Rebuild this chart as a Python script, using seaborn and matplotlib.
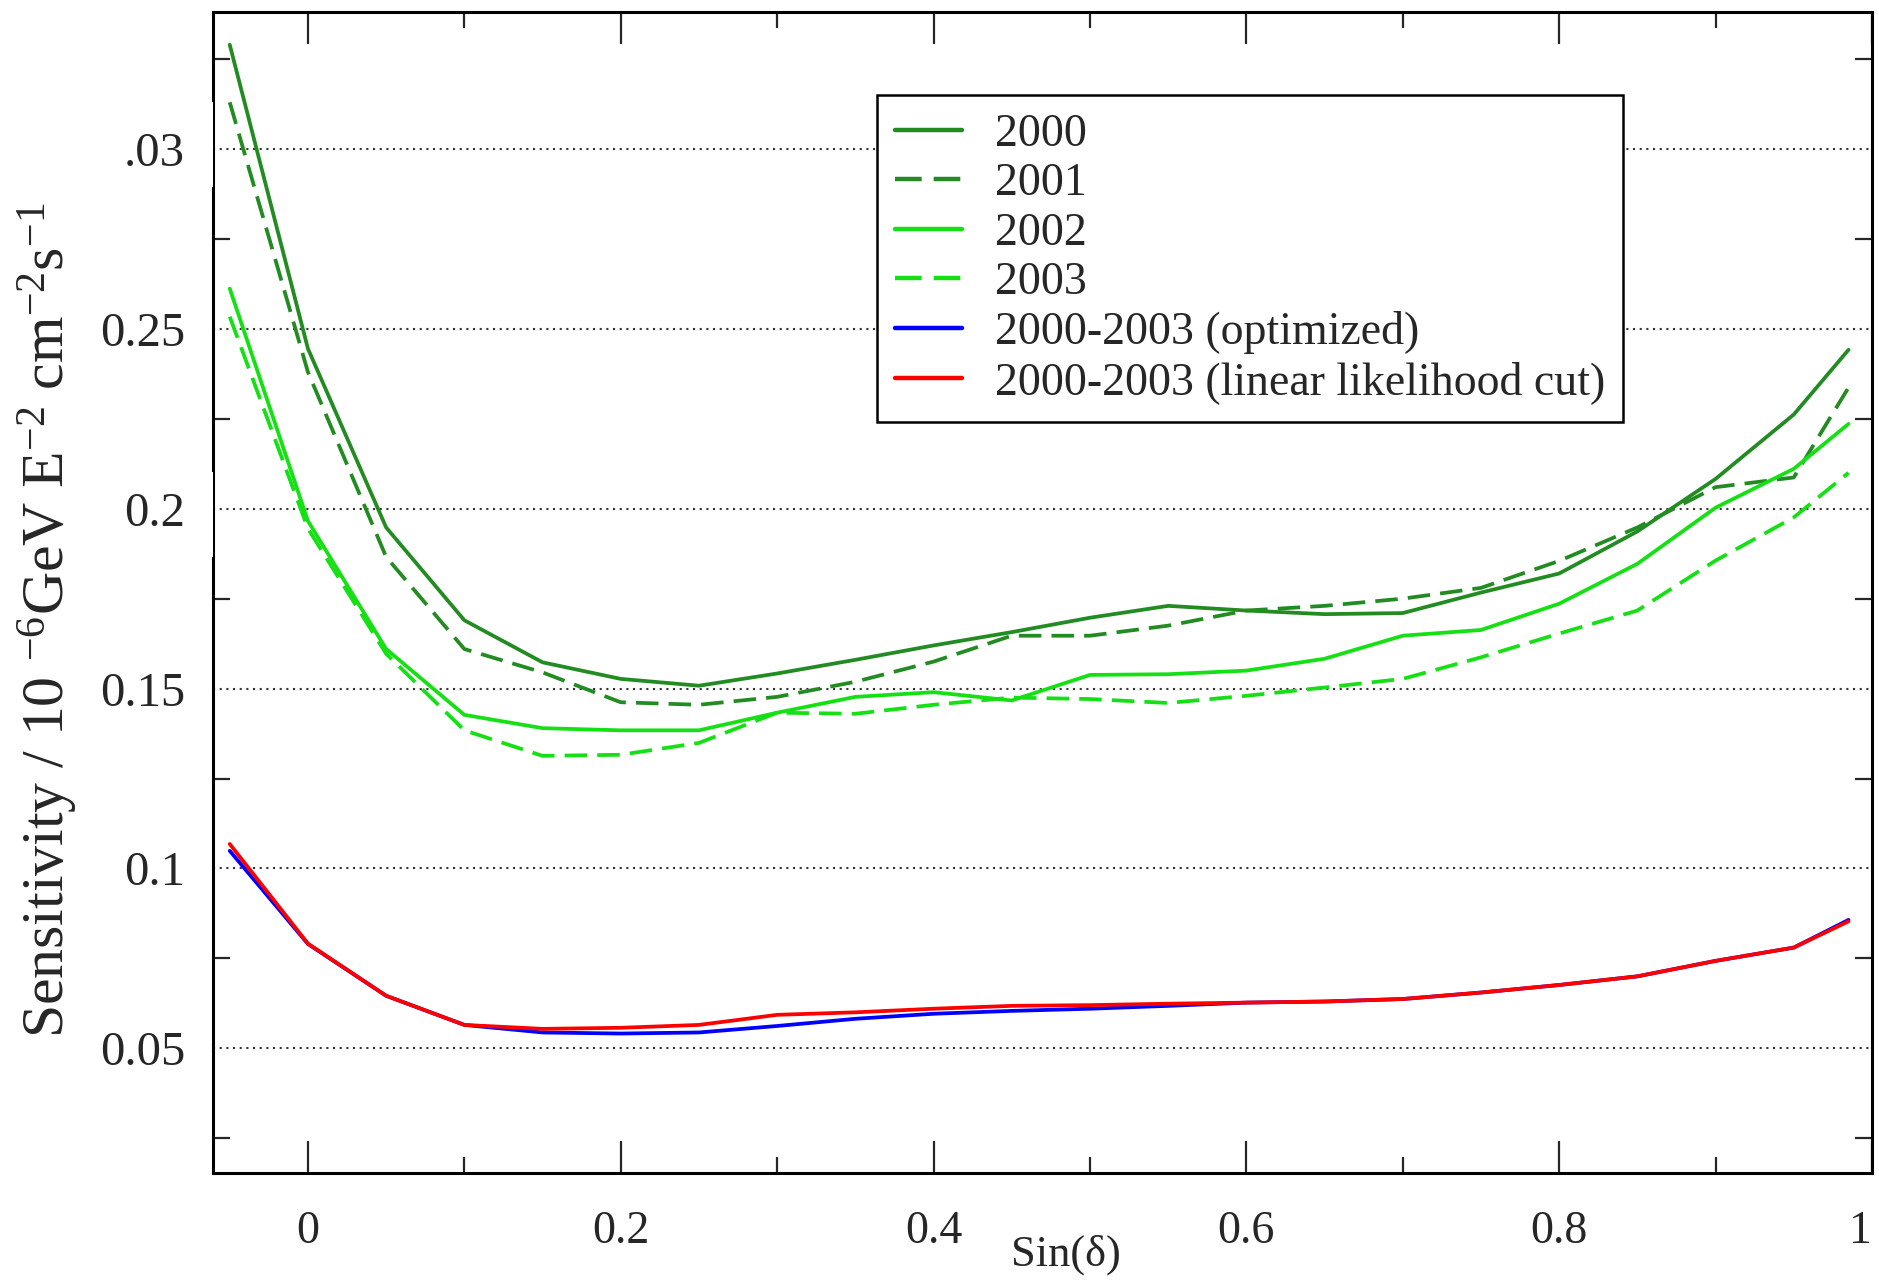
import matplotlib
matplotlib.use("Agg")
import matplotlib.pyplot as plt
from matplotlib.patches import Rectangle
import seaborn as sns

# Sensitivity versus declination, per data year and combined
sin_dec = [-0.05, 0.0, 0.05, 0.10, 0.15, 0.20, 0.25, 0.30, 0.35, 0.40, 0.45,
           0.50, 0.55, 0.60, 0.65, 0.70, 0.75, 0.80, 0.85, 0.90, 0.95, 0.985]

sens_2000 = [0.329, 0.2445, 0.1948, 0.169, 0.1573, 0.1527, 0.1508, 0.1542, 0.158, 0.162, 0.1657,
             0.1697, 0.173, 0.1717, 0.1707, 0.171, 0.1767, 0.182, 0.1937, 0.2083, 0.2262, 0.2442]
sens_2001 = [0.313, 0.238, 0.1866, 0.161, 0.1545, 0.1462, 0.1455, 0.1477, 0.1519, 0.1575, 0.1647,
             0.1647, 0.1675, 0.1717, 0.173, 0.175, 0.178, 0.1855, 0.1948, 0.206, 0.2087, 0.2337]
sens_2002 = [0.2612, 0.1966, 0.161, 0.1427, 0.139, 0.1384, 0.1384, 0.1433, 0.1477, 0.149, 0.1467,
             0.1538, 0.154, 0.155, 0.1583, 0.1647, 0.1663, 0.1736, 0.1847, 0.2003, 0.2111, 0.2236]
sens_2003 = [0.2534, 0.1945, 0.1597, 0.1384, 0.1313, 0.1316, 0.1349, 0.1433, 0.143, 0.1455, 0.1475,
             0.1471, 0.146, 0.148, 0.1503, 0.1527, 0.1587, 0.1653, 0.1717, 0.1856, 0.1976, 0.21]
sens_optimized = [0.1049, 0.079, 0.0646, 0.0565, 0.0544, 0.0541, 0.0544, 0.0562, 0.0582, 0.0596, 0.0604,
                  0.061, 0.0618, 0.0627, 0.063, 0.0637, 0.0655, 0.0676, 0.070, 0.0743, 0.078, 0.0857]
sens_linear = [0.1068, 0.0791, 0.0646, 0.0565, 0.0554, 0.0557, 0.0565, 0.0593, 0.06, 0.061, 0.0618,
               0.062, 0.0624, 0.0627, 0.063, 0.0637, 0.0655, 0.0676, 0.070, 0.0743, 0.078, 0.0853]

series_labels = ["2000", "2001", "2002", "2003",
                 "2000-2003 (optimized)", "2000-2003 (linear likelihood cut)"]

x_ticks = [0.0, 0.2, 0.4, 0.6, 0.8, 1.0]
x_tick_labels = ["0", "0.2", "0.4", "0.6", "0.8", "1"]
y_ticks = [0.05, 0.10, 0.15, 0.20, 0.25, 0.30]
y_tick_labels = ["0.05", "0.1", "0.15", "0.2", "0.25", ".03"]

sns.set_style("white")
plt.rcParams["font.family"] = ["Liberation Serif", "DejaVu Serif"]
plt.rcParams["mathtext.fontset"] = "custom"
plt.rcParams["mathtext.rm"] = "Liberation Serif"
plt.rcParams["mathtext.it"] = "Liberation Serif"
plt.rcParams["mathtext.default"] = "rm"

W, H = 1879, 1280
fig = plt.figure(figsize=(W / 100, H / 100), dpi=100)
fig.patch.set_facecolor("white")
ax = fig.add_axes([213 / W, 1 - 1173 / H, (1872 - 213) / W, (1173 - 12) / H])

dark_green = "#228b22"
light_green = "#14e014"
dash = (0, (6, 2.7))
styles = [
    (sens_2000, dark_green, "-"),
    (sens_2001, dark_green, dash),
    (sens_2002, light_green, "-"),
    (sens_2003, light_green, dash),
    (sens_optimized, "#0000ff", "-"),
    (sens_linear, "#ff0000", "-"),
]
for label, (vals, color, ls) in zip(series_labels, styles):
    sns.lineplot(x=sin_dec, y=vals, ax=ax, color=color, linestyle=ls,
                 linewidth=2.7, label=label)

ax.set_xlim(-0.0607, 1.0)
ax.set_ylim(0.01533, 0.3381)

ax.set_xticks(x_ticks)
ax.set_xticklabels(x_tick_labels)
ax.set_xticks([0.1, 0.3, 0.5, 0.7, 0.9], minor=True)
ax.set_yticks(y_ticks)
ax.set_yticklabels(y_tick_labels)
ax.set_yticks([0.025, 0.075, 0.125, 0.175, 0.225, 0.275, 0.325], minor=True)

ax.tick_params(axis="x", which="major", direction="in", length=23, width=1.6,
               top=True, bottom=True, labelsize=33, pad=27)
ax.tick_params(axis="x", which="minor", direction="in", length=11.5, width=1.6,
               top=True, bottom=True)
ax.tick_params(axis="y", which="major", length=0, labelsize=35, pad=20)
ax.tick_params(axis="y", which="minor", direction="in", length=12, width=1.6,
               left=True, right=True)

# last x label hugs the right edge
ax.get_xticklabels()[-1].set_horizontalalignment("right")

ax.yaxis.grid(True, which="major", linestyle=(0, (1, 2.2)), color="#333333", linewidth=1.5)
ax.xaxis.grid(False)

for s in ax.spines.values():
    s.set_linewidth(2.2)
    s.set_color("black")

ax.set_xlabel("Sin(\u03b4)", fontsize=32, ha="center", va="center")
ax.xaxis.set_label_coords((1066 - 213) / 1659, (1173 - 1255) / 1161)
ax.set_ylabel(r"Sensitivity / 10 $^{-6}$GeV E$^{-2}$ cm$^{-2}$s$^{-1}$",
              fontsize=43, ha="center", va="center")
ax.yaxis.set_label_coords((48 - 213) / 1659, (1173 - 620) / 1161)

leg = ax.legend(loc="upper left", bbox_to_anchor=((877 - 213) / 1659, (1173 - 95) / 1161),
                borderaxespad=0, fontsize=33, handlelength=1.45, handletextpad=0.72,
                labelspacing=0.15, borderpad=0.4, frameon=True, fancybox=False,
                edgecolor="black", framealpha=1)
leg.get_frame().set_linewidth(1.8)
for line in leg.get_lines():
    line.set_linewidth(3.2)

# label backgrounds that cut into the left frame line
for y0, y1 in [(102, 187), (472, 557)]:
    fig.add_artist(Rectangle((196 / W, 1 - y1 / H), 17 / W, (y1 - y0) / H,
                             transform=fig.transFigure, facecolor="white",
                             edgecolor="none", zorder=10))

fig.savefig("out.png", dpi=100)
